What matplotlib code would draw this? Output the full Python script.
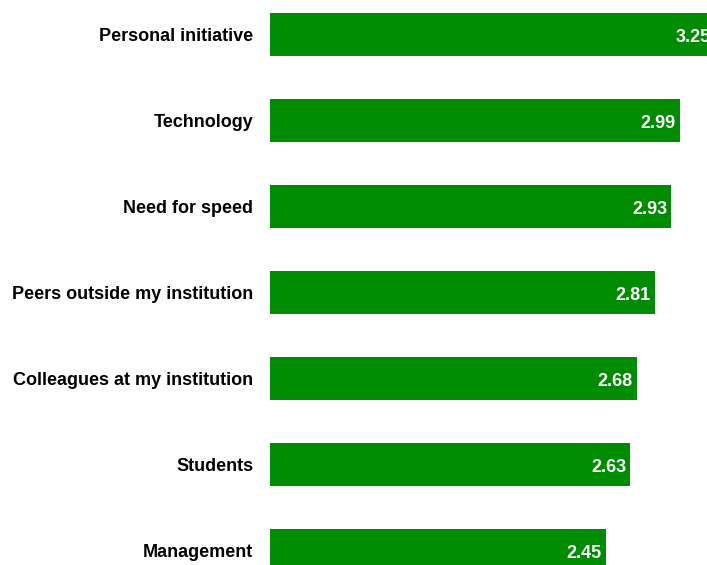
import matplotlib
matplotlib.use("Agg")
import matplotlib.pyplot as plt

categories = [
    "Personal initiative",
    "Technology",
    "Need for speed",
    "Peers outside my institution",
    "Colleagues at my institution",
    "Students",
    "Management",
]
values = [3.25, 2.99, 2.93, 2.81, 2.68, 2.63, 2.45]

plt.rcParams["font.family"] = ["Liberation Sans", "DejaVu Sans"]

fig = plt.figure(figsize=(7.07, 5.65), dpi=100)
ax = fig.add_axes([270 / 707, 0, 437 / 707, 1])

pos = list(range(len(categories)))
ax.barh(pos, values, height=0.5, color="#008c00")

ax.set_xlim(0, 437 / 137)
ax.set_ylim((565 - 34.5) / 86, -34.5 / 86)

ax.set_yticks(pos)
ax.set_yticklabels(categories, fontsize=13, fontweight="bold", color="black",
                   va="center_baseline")
ax.tick_params(axis="y", length=0, pad=12)
ax.set_xticks([])
for s in ax.spines.values():
    s.set_visible(False)

for p, v in zip(pos, values):
    ax.annotate(f"{v:.2f}", xy=(v, p), xytext=(-3, -1), textcoords="offset points",
                ha="right", va="center_baseline", color="white", fontsize=13,
                fontweight="bold", annotation_clip=False)

fig.savefig("out.png", dpi=100)
